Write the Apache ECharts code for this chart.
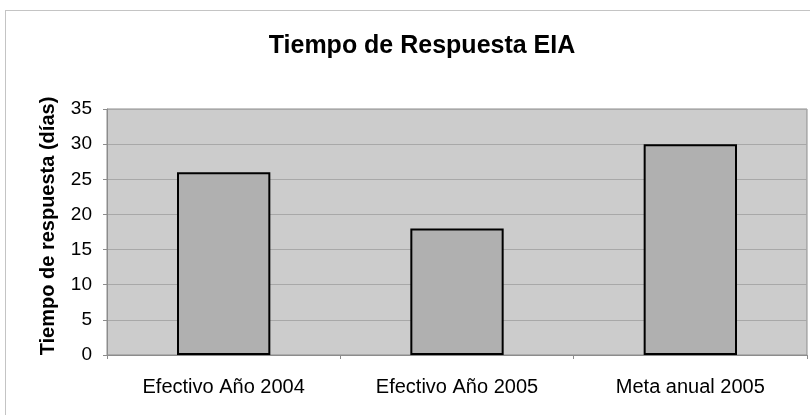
<!DOCTYPE html>
<html><head><meta charset="utf-8">
<script src="https://cdn.jsdelivr.net/npm/echarts@6/dist/echarts.min.js"></script>
<style>html,body{margin:0;padding:0;background:#fff}#c{width:810px;height:415px;position:relative}
#frame{position:absolute;left:5px;top:10px;width:810px;height:410px;border:1px solid #c4c4c4;box-sizing:border-box;pointer-events:none}</style>
</head><body><div id="c"></div><div id="frame"></div>
<script>
const titleText = 'Tiempo de Respuesta EIA';
const yAxisName = 'Tiempo de respuesta (días)';
const categories = ['Efectivo Año 2004', 'Efectivo Año 2005', 'Meta anual 2005'];
const values = [26, 18, 30];
const chart = echarts.init(document.getElementById('c'), null, {renderer: 'canvas'});
const F = 'Liberation Sans, Arial, sans-serif';
chart.setOption({
  animation: false,
  backgroundColor: '#ffffff',
  title: {text: titleText, left: 417, top: 29, textAlign: 'center',
    textStyle: {fontFamily: F, fontSize: 25, fontWeight: 'bold', color: '#000'}},
  grid: {left: 107, right: 3, top: 109, bottom: 60, show: true, backgroundColor: '#cccccc', borderColor: '#8c8c8c', borderWidth: 1},
  xAxis: {type: 'category', data: categories,
    axisLine: {lineStyle: {color: '#8c8c8c', width: 1}},
    axisTick: {show: true, length: 4, lineStyle: {color: '#8c8c8c'}},
    axisLabel: {fontFamily: F, fontSize: 20, color: '#000', margin: 22}},
  yAxis: {type: 'value', min: 0, max: 35, interval: 5,
    name: yAxisName, nameLocation: 'middle', nameGap: 49,
    nameTextStyle: {fontFamily: F, fontSize: 20, fontWeight: 'bold', color: '#000', padding: [0, 0, 0, 12]},
    axisLine: {show: true, lineStyle: {color: '#8c8c8c'}},
    axisTick: {show: true, length: 4, lineStyle: {color: '#8c8c8c'}},
    axisLabel: {fontFamily: F, fontSize: 19, color: '#000', margin: 15},
    splitLine: {lineStyle: {color: '#a8a8a8', width: 1}}},
  series: [{type: 'bar', data: values, barCategoryGap: '60%',
    itemStyle: {color: '#b0b0b0', borderColor: '#000', borderWidth: 2}}]
});
</script></body></html>
